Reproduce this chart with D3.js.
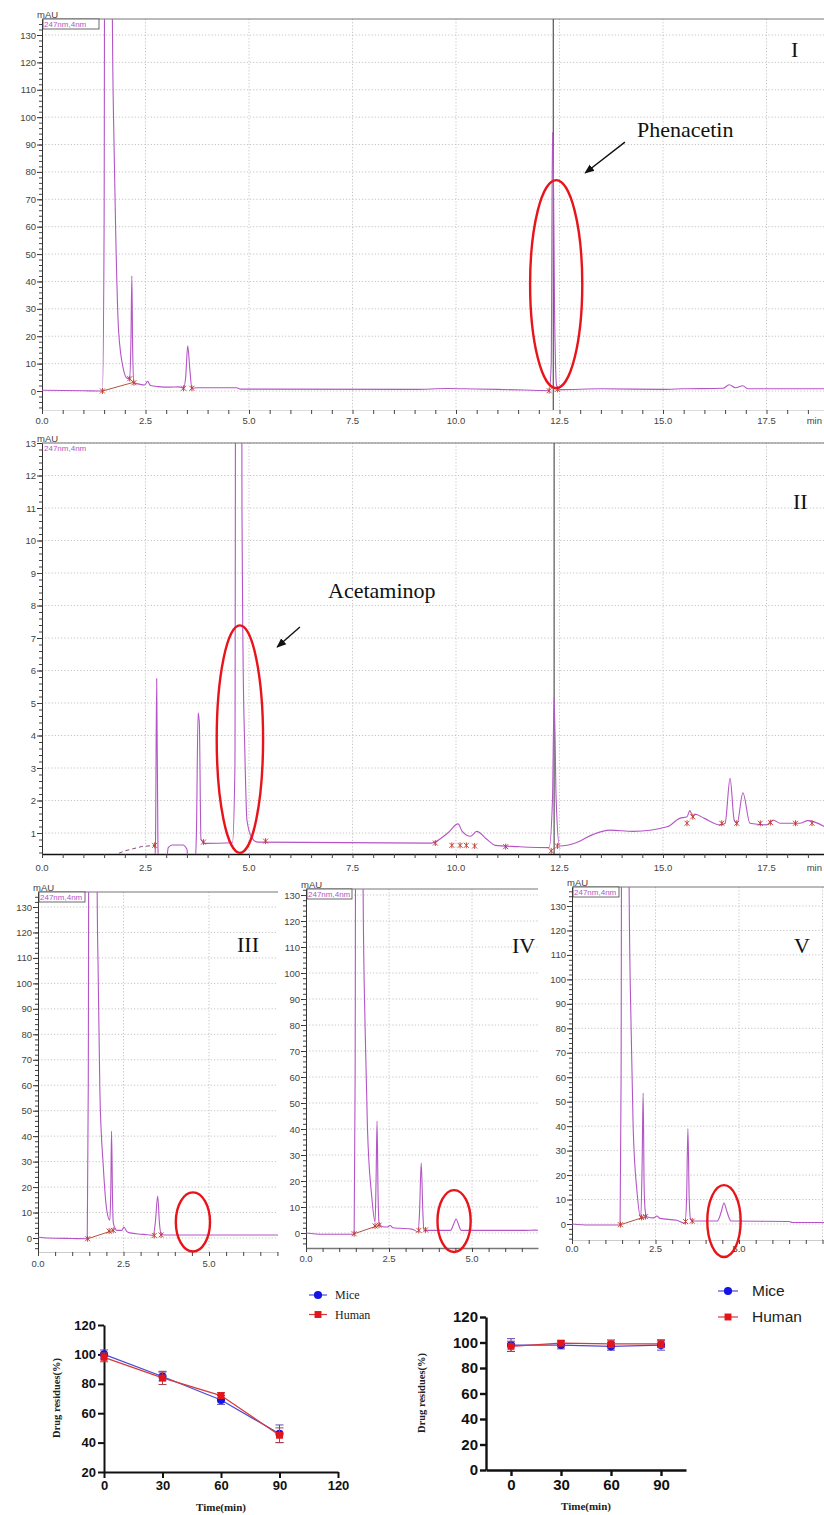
<!DOCTYPE html>
<html>
<head>
<meta charset="utf-8">
<script src="https://cdn.jsdelivr.net/npm/d3@7"></script>
<style>
  body { margin: 0; background: #fff; }
  text { font-family: "Liberation Sans", Arial, sans-serif; }
  .serif { font-family: "Liberation Serif", "Times New Roman", serif; }
</style>
</head>
<body>
<svg id="fig" width="824" height="1515"></svg>
<script>
// chromatogram traces, [time (min), signal (mAU)]
const traceI = [[0,0.3],[1.0,0.1],[1.46,0],[1.50,60],[1.54,500],[1.66,500],[1.70,136],[1.74,90],[1.78,58],[1.85,22],
  [1.97,7.7],[2.05,4.7],[2.12,4.5],[2.15,20],[2.17,42],[2.19,15],[2.22,3],[2.35,2.5],[2.48,2.2],[2.55,3.5],[2.62,2],
  [2.8,1.6],[3.1,1.4],[3.3,1.5],[3.42,1],[3.47,5],[3.52,16.5],[3.57,8],[3.62,1],[3.75,1.2],[4.7,1.2],[4.8,0.7],
  [9.0,0.6],[9.8,0.9],[10.2,0.8],[11.0,0.6],[12.0,0.2],[12.25,0.1],[12.30,10],[12.33,94.5],[12.35,86],[12.38,30],
  [12.43,2],[12.5,0.5],[13.5,0.8],[15.0,0.6],[15.5,0.8],[16.45,1],[16.6,2.3],[16.75,1.2],[16.93,1.9],[17.05,0.8],
  [17.5,0.8],[18.9,0.8]];
const traceII = [[0,-0.5],[2.70,-0.2],[2.74,0.6],[2.77,5.75],[2.80,0.6],[2.83,-0.2],[2.98,-0.2],[3.05,0.55],
  [3.15,0.63],[3.4,0.63],[3.5,0.5],[3.55,-0.2],[3.68,-0.2],[3.73,1.0],[3.77,4.7],[3.80,4.4],[3.84,0.8],[3.95,0.68],
  [4.60,0.7],[4.66,3],[4.69,30],[4.81,30],[4.83,10.9],[4.855,6.6],[4.90,3.5],[4.95,1.4],[5.07,0.85],[5.2,0.72],
  [9.4,0.69],[9.8,1.0],[10.05,1.28],[10.15,1.05],[10.35,0.9],[10.5,1.05],[10.75,0.8],[10.95,0.62],[11.5,0.58],
  [12.25,0.55],[12.33,2],[12.37,5.15],[12.42,2],[12.5,0.6],[12.9,0.7],[13.3,0.95],[13.72,1.09],[14.28,1.05],
  [15.1,1.19],[15.4,1.45],[15.58,1.5],[15.65,1.69],[15.72,1.5],[15.77,1.58],[16.0,1.45],[16.38,1.25],[16.5,1.3],
  [16.62,2.68],[16.72,1.4],[16.79,1.3],[16.93,2.24],[17.1,1.3],[17.5,1.25],[17.66,1.4],[17.83,1.3],[18.3,1.3],
  [18.5,1.38],[18.9,1.2]];
const traceIII = [[0,0.4],[0.3,0],[1.0,-0.2],[1.44,-0.3],[1.47,60],[1.52,500],[1.66,500],[1.73,136],[1.76,104],
  [1.81,57],[1.91,28],[2.01,11],[2.10,7],[2.13,20],[2.15,42],[2.18,15],[2.20,6],[2.30,3],[2.45,3],[2.51,4.3],
  [2.60,2.5],[2.69,2],[3.0,1.5],[3.2,1.3],[3.37,1],[3.43,6],[3.50,16.5],[3.55,6],[3.60,1.5],[3.70,1.2],[7.1,1.2]];
const traceIV = [[0,0],[0.5,-0.5],[1.45,-0.5],[1.48,60],[1.53,500],[1.66,500],[1.72,132],[1.78,79],[1.85,41],
  [1.98,14],[2.08,4.2],[2.11,20],[2.14,43],[2.17,15],[2.20,4],[2.29,2.5],[2.45,2.3],[2.53,2.9],[2.62,2],[2.83,1.8],
  [3.19,1.5],[3.37,0.5],[3.42,8],[3.47,27],[3.52,8],[3.55,1],[3.64,1],[4.35,1],[4.45,3.5],[4.52,5.4],[4.60,3],
  [4.67,1],[6.6,1],[6.9,1.1],[7.1,1]];
const traceV = [[0,0],[0.5,-0.4],[1.44,-0.4],[1.47,60],[1.52,500],[1.65,500],[1.71,138],[1.77,80],[1.83,40],
  [1.95,12.7],[2.06,2.5],[2.10,25],[2.13,53.5],[2.16,15],[2.19,5.7],[2.24,3],[2.45,2.5],[2.54,3.3],[2.63,2.3],
  [3.14,1.5],[3.38,0.3],[3.43,10],[3.47,39],[3.51,10],[3.55,2],[3.62,1.2],[4.35,1.2],[4.47,5],[4.55,8.6],[4.64,5],
  [4.76,1.2],[6.5,1],[6.6,0.6],[7.6,0.6]];

// integration baselines and peak marks
const baseI = [[1.46,0],[2.22,3.2]];
const marksI = [[1.46,0],[2.12,4.5],[2.22,3],[3.42,1],[3.62,1],[12.25,0.1],[12.45,0.6]];
const baseII = [[1.7,0.3],[2.0,0.45],[2.4,0.58],[2.72,0.62]];
const marksII = [[2.72,0.62],[3.9,0.72],[5.4,0.75],[9.5,0.69],[9.9,0.62],[10.1,0.62],[10.25,0.62],[10.45,0.6],
  [11.2,0.58],[12.3,0.45],[12.45,0.6],[15.58,1.3],[15.72,1.5],[16.42,1.3],[16.78,1.3],[17.35,1.3],[17.6,1.32],
  [18.2,1.3],[18.6,1.3]];
const baseSmall = [[1.45,-0.3],[2.2,3]];
const marksSmall = [[1.45,-0.3],[2.08,2.7],[2.2,3],[3.4,1],[3.6,1.2]];

// microsomal stability, residue (%) vs time (min)
const timeMin = [0, 30, 60, 90];
const miceA = [100, 85, 69, 46];
const miceAErr = [3, 3, 3, 6];
const humanA = [98, 84, 72, 45];
const humanAErr = [3, 4.5, 2, 5];
const miceB = [98, 98, 97, 98];
const miceBErr = [5, 3, 3, 4];
const humanB = [97, 99.5, 99, 99];
const humanBErr = [4, 2, 3, 3];

const svg = d3.select("#fig");
const PURPLE = "#b455c6";
const RED = "#e8141a";

const defs = svg.append("defs");
defs.append("marker").attr("id", "arrow").attr("viewBox", "0 0 10 10")
  .attr("refX", 9).attr("refY", 5).attr("markerWidth", 7).attr("markerHeight", 7)
  .attr("orient", "auto-start-reverse")
  .append("path").attr("d", "M0,1 L10,5 L0,9 z").attr("fill", "#111");

function drawChrom(p) {
  const g = svg.append("g");
  const xs = d3.scaleLinear().domain([0, 2.5]).range(p.xPx);
  const ys = d3.scaleLinear().domain(p.yRef).range(p.yPx);
  const x = xs.copy().domain([0, xs.invert(p.right)]).range([p.left, p.right]);
  const y = ys.copy().domain([ys.invert(p.bottom), ys.invert(p.top)]).range([p.bottom, p.top]);
  const [yLo, yHi] = y.domain();
  const xMax = x.domain()[1];

  defs.append("clipPath").attr("id", "clip" + p.id).append("rect")
    .attr("x", p.left).attr("y", p.top).attr("width", p.right - p.left).attr("height", p.bottom - p.top);

  const xMajor = d3.range(0, xMax, 2.5);
  const yMajor = d3.range(p.yStart, yHi + 1e-6, p.yStep);
  const yMinor = d3.range(Math.ceil(yLo / p.yMinor) * p.yMinor, yHi, p.yMinor);

  // dotted grid
  g.append("g").selectAll("line").data(xMajor.slice(1)).join("line")
    .attr("x1", d => x(d)).attr("x2", d => x(d)).attr("y1", p.top).attr("y2", p.bottom)
    .attr("stroke", "#c4c4c4").attr("stroke-dasharray", "1.2,2");
  g.append("g").selectAll("line").data(yMajor).join("line")
    .attr("x1", p.left).attr("x2", p.right).attr("y1", d => y(d)).attr("y2", d => y(d))
    .attr("stroke", "#c4c4c4").attr("stroke-dasharray", "1.2,2");

  // top frame
  g.append("line").attr("x1", p.left).attr("x2", p.right).attr("y1", p.top).attr("y2", p.top)
    .attr("stroke", "#777").attr("stroke-width", 1.2);

  // y axis
  const ya = g.append("g").attr("transform", `translate(${p.left},0)`)
    .call(d3.axisLeft(y).tickValues(yMajor).tickSize(5).tickSizeOuter(0).tickPadding(1).tickFormat(d3.format("d")));
  ya.select(".domain").attr("stroke", "#333");
  ya.selectAll("line").attr("stroke", "#333");
  ya.selectAll("text").attr("font-size", 9.5).attr("fill", "#444");
  g.append("g").attr("transform", `translate(${p.left},0)`)
    .call(d3.axisLeft(y).tickValues(yMinor).tickSize(3).tickFormat(""))
    .call(s => s.select(".domain").remove())
    .selectAll("line").attr("stroke", "#444");

  // x axis
  const xa = g.append("g").attr("transform", `translate(0,${p.bottom})`)
    .call(d3.axisBottom(x).tickValues(d3.range(0, xMax, 0.5)).tickSize(4).tickSizeOuter(0).tickFormat(""));
  xa.select(".domain").attr("stroke", p.axisColor).attr("stroke-width", p.axisWidth);
  xa.selectAll("line").attr("stroke", "#444");
  g.append("g").selectAll("text").data(xMajor.filter(d => x(d) < p.right - 12)).join("text")
    .attr("x", d => x(d)).attr("y", p.labelY).attr("text-anchor", "middle")
    .attr("font-size", 9.5).attr("fill", "#444").text(d3.format(".1f"));
  if (p.minLabel) {
    g.append("text").attr("x", p.right - 2).attr("y", p.labelY).attr("text-anchor", "end")
      .attr("font-size", 9.5).attr("fill", "#444").text("min");
  }

  // y unit and detector box
  g.append("text").attr("x", p.left - 5).attr("y", p.top - 1).attr("font-size", 9.5).attr("fill", "#444").text("mAU");
  if (p.boxW) {
    g.append("rect").attr("x", p.left + 1).attr("y", p.top).attr("width", p.boxW).attr("height", 10)
      .attr("fill", "#fff").attr("stroke", "#444").attr("stroke-width", 0.8);
  }
  g.append("text").attr("x", p.left + 2).attr("y", p.top + 8).attr("font-size", 8).attr("fill", PURPLE).text("247nm,4nm");

  const clip = g.append("g").attr("clip-path", `url(#clip${p.id})`);
  const line = d3.line().x(d => x(d[0])).y(d => y(d[1]));
  const smooth = d3.line().x(d => x(d[0])).y(d => y(d[1])).curve(d3.curveMonotoneX);

  // cursor line
  if (p.cursor != null) {
    clip.append("line").attr("x1", x(p.cursor)).attr("x2", x(p.cursor)).attr("y1", p.top).attr("y2", p.bottom)
      .attr("stroke", "#555").attr("stroke-width", 1.2);
  }
  // integration baseline
  clip.append("path").datum(p.base).attr("d", line).attr("fill", "none")
    .attr("stroke", p.baseDash ? "#8c4a7a" : "#b0553e").attr("stroke-width", 1)
    .attr("stroke-dasharray", p.baseDash ? "4,3" : null);
  // trace
  clip.append("path").datum(p.trace).attr("d", smooth).attr("fill", "none")
    .attr("stroke", PURPLE).attr("stroke-width", 1.1).attr("stroke-linejoin", "round");
  // peak marks
  clip.append("g").selectAll("path").data(p.marks).join("path")
    .attr("transform", d => `translate(${x(d[0])},${y(d[1])})`)
    .attr("d", "M-2.5,-2.5L2.5,2.5M2.5,-2.5L-2.5,2.5M0,-3V3")
    .attr("stroke", "#c0392b").attr("stroke-width", 0.9);

  // highlight ellipse
  const e = p.ellipse;
  g.append("ellipse").attr("cx", x(e.t)).attr("cy", y(e.v))
    .attr("rx", x(e.t + e.dt) - x(e.t)).attr("ry", y(e.v - e.dv) - y(e.v))
    .attr("fill", "none").attr("stroke", RED).attr("stroke-width", 2.4);

  // compound label and arrow
  if (p.label) {
    const L = p.label;
    g.append("text").attr("class", "serif").attr("x", x(L.t)).attr("y", y(L.v))
      .attr("font-size", 22).attr("fill", "#111").text(L.text);
    g.append("line").attr("x1", x(L.a[0])).attr("y1", y(L.a[1])).attr("x2", x(L.a[2])).attr("y2", y(L.a[3]))
      .attr("stroke", "#111").attr("stroke-width", 1.4).attr("marker-end", "url(#arrow)");
  }

  g.append("text").attr("class", "serif").attr("x", p.roman[0]).attr("y", p.roman[1])
    .attr("font-size", 22).attr("fill", "#111").text(p.id);
}

drawChrom({ id: "I", trace: traceI, base: baseI, marks: marksI, cursor: 12.35,
  left: 42, right: 824, top: 19, bottom: 410, xPx: [42, 145.5], yRef: [0, 130], yPx: [391, 35],
  yStart: 0, yStep: 10, yMinor: 2, labelY: 424, minLabel: true, axisColor: "#ddd", axisWidth: 1, boxW: 56,
  ellipse: { t: 12.42, v: 39, dt: 0.63, dv: 38 },
  label: { text: "Phenacetin", t: 14.37, v: 92.7, a: [14.08, 90.9, 13.12, 79.6] },
  roman: [791, 57] });

drawChrom({ id: "II", trace: traceII, base: baseII, baseDash: true, marks: marksII, cursor: 12.37,
  left: 42, right: 824, top: 443, bottom: 854, xPx: [42, 145.5], yRef: [1, 13], yPx: [833, 443],
  yStart: 1, yStep: 1, yMinor: 0.2, labelY: 871, minLabel: true, axisColor: "#111", axisWidth: 1.6, boxW: 0,
  ellipse: { t: 4.78, v: 3.89, dt: 0.56, dv: 3.5 },
  label: { text: "Acetaminop", t: 6.91, v: 8.23, a: [6.23, 7.34, 5.68, 6.72] },
  roman: [793, 509] });

drawChrom({ id: "III", trace: traceIII, base: baseSmall, marks: marksSmall,
  left: 38, right: 278, top: 892, bottom: 1252, xPx: [38, 123.5], yRef: [0, 130], yPx: [1238, 907],
  yStart: 0, yStep: 10, yMinor: 2, labelY: 1267, axisColor: "#ccc", axisWidth: 1, boxW: 46,
  ellipse: { t: 4.53, v: 6.3, dt: 0.5, dv: 11.6 },
  roman: [237, 952] });

drawChrom({ id: "IV", trace: traceIV, base: baseSmall, marks: marksSmall,
  left: 306, right: 538, top: 889, bottom: 1248, xPx: [306, 389], yRef: [0, 130], yPx: [1233, 895],
  yStart: 0, yStep: 10, yMinor: 2, labelY: 1262, axisColor: "#777", axisWidth: 1.4, boxW: 45,
  ellipse: { t: 4.46, v: 4.6, dt: 0.5, dv: 11.9 },
  roman: [512, 953] });

drawChrom({ id: "V", trace: traceV, base: baseSmall, marks: marksSmall,
  left: 572, right: 824, top: 887, bottom: 1240, xPx: [572, 655.5], yRef: [0, 130], yPx: [1224, 906],
  yStart: 0, yStep: 10, yMinor: 2, labelY: 1252, axisColor: "#ccc", axisWidth: 1, boxW: 46,
  ellipse: { t: 4.55, v: 1.2, dt: 0.5, dv: 14.7 },
  roman: [794, 953] });

// residue plots
function drawResidue(c) {
  const g = svg.append("g");
  const x = d3.scaleLinear().domain(c.xDomain).range(c.xRange);
  const y = d3.scaleLinear().domain(c.yDomain).range(c.yRange);

  const xa = g.append("g").attr("transform", `translate(0,${c.yRange[0]})`)
    .call(d3.axisBottom(x).tickValues(c.xTicks).tickSize(6).tickSizeOuter(0).tickPadding(3));
  const ya = g.append("g").attr("transform", `translate(${c.xRange[0]},0)`)
    .call(d3.axisLeft(y).tickValues(c.yTicks).tickSize(6).tickSizeOuter(0).tickPadding(2));
  [xa, ya].forEach(a => {
    a.selectAll("path,line").attr("stroke", "#111").attr("stroke-width", c.axisW);
    a.selectAll("text").attr("font-size", c.tickFont).attr("font-weight", "bold").attr("fill", "#111");
  });

  g.append("text").attr("class", "serif").attr("x", (c.xRange[0] + c.xRange[1]) / 2 + c.titleDx).attr("y", c.titleY)
    .attr("text-anchor", "middle").attr("font-size", 11).attr("font-weight", "bold").attr("fill", "#222").text("Time(min)");
  g.append("text").attr("class", "serif")
    .attr("transform", `translate(${c.yTitleX},${c.yTitleY}) rotate(-90)`)
    .attr("text-anchor", "middle").attr("font-size", 10.5).attr("font-weight", "bold").attr("fill", "#222")
    .text("Drug residues(%)");

  const line = d3.line().x(d => x(d[0])).y(d => y(d[1]));
  c.series.forEach(s => {
    const pts = timeMin.map((t, i) => [t, s.values[i], s.err[i]]);
    const sg = g.append("g");
    sg.append("path").datum(pts).attr("d", line).attr("fill", "none").attr("stroke", s.line).attr("stroke-width", 1.2);
    const eb = sg.selectAll(".eb").data(pts).join("g").attr("stroke", s.errColor).attr("stroke-width", 1);
    eb.append("line").attr("x1", d => x(d[0])).attr("x2", d => x(d[0]))
      .attr("y1", d => y(d[1] - d[2])).attr("y2", d => y(d[1] + d[2]));
    eb.append("line").attr("x1", d => x(d[0]) - 4).attr("x2", d => x(d[0]) + 4)
      .attr("y1", d => y(d[1] + d[2])).attr("y2", d => y(d[1] + d[2]));
    eb.append("line").attr("x1", d => x(d[0]) - 4).attr("x2", d => x(d[0]) + 4)
      .attr("y1", d => y(d[1] - d[2])).attr("y2", d => y(d[1] - d[2]));
    sg.selectAll(".pt").data(pts).join("path")
      .attr("transform", d => `translate(${x(d[0])},${y(d[1])})`)
      .attr("d", d3.symbol(s.shape, s.shape === d3.symbolSquare ? 48 : 52))
      .attr("fill", s.color);
  });

  c.series.forEach((s, i) => {
    const ly = c.legY + i * c.legGap;
    g.append("line").attr("x1", c.legX - c.legLine).attr("x2", c.legX + c.legLine).attr("y1", ly).attr("y2", ly)
      .attr("stroke", s.line).attr("stroke-width", 1.2);
    g.append("path").attr("transform", `translate(${c.legX},${ly})`)
      .attr("d", d3.symbol(s.shape, s.shape === d3.symbolSquare ? 48 : 52)).attr("fill", s.color);
    g.append("text").attr("class", c.legSerif ? "serif" : null).attr("x", c.legX + c.legTextDx).attr("y", ly)
      .attr("dy", "0.35em").attr("font-size", c.legFont).attr("fill", "#222").text(s.name);
  });
}

const mice = (v, e) => ({ name: "Mice", values: v, err: e, shape: d3.symbolCircle, color: "#1414e6", line: "#4a4ad6", errColor: "#5a4aa8" });
const human = (v, e) => ({ name: "Human", values: v, err: e, shape: d3.symbolSquare, color: "#e3151b", line: "#d43a3a", errColor: "#a8404a" });

drawResidue({ xDomain: [0, 120], xRange: [104, 338], yDomain: [20, 120], yRange: [1472, 1325],
  xTicks: [0, 30, 60, 90, 120], yTicks: [20, 40, 60, 80, 100, 120], axisW: 2, tickFont: 13,
  titleDx: 0, titleY: 1511, yTitleX: 60, yTitleY: 1398,
  series: [human(humanA, humanAErr), mice(miceA, miceAErr)].reverse(),
  legX: 318, legY: 1295, legGap: 19.5, legLine: 9, legTextDx: 17, legFont: 12, legSerif: true });

drawResidue({ xDomain: [-15, 105], xRange: [486, 686], yDomain: [0, 120], yRange: [1470, 1317],
  xTicks: [0, 30, 60, 90], yTicks: [0, 20, 40, 60, 80, 100, 120], axisW: 2.4, tickFont: 15,
  titleDx: 0, titleY: 1510, yTitleX: 425, yTitleY: 1393,
  series: [mice(miceB, miceBErr), human(humanB, humanBErr)],
  legX: 728, legY: 1291, legGap: 26, legLine: 10, legTextDx: 24, legFont: 15.5, legSerif: false });
</script>
</body>
</html>
